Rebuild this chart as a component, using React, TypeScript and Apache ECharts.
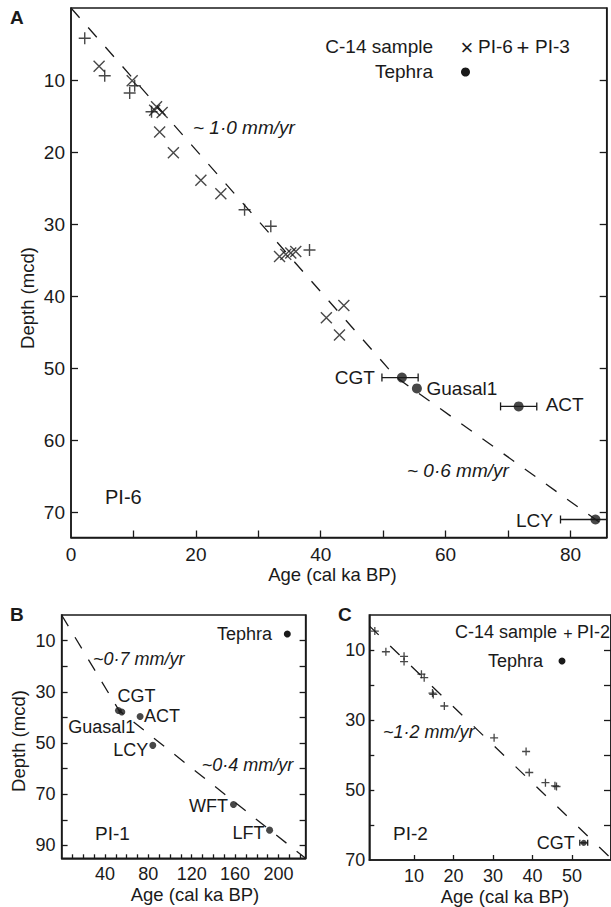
import React, { useEffect, useRef } from "react";
import * as echarts from "echarts";

const FONT = "Liberation Sans";
const INK = "#1a1a1a";

// ---------- Panel A (PI-6 / PI-3) ----------
const A_PI6: [number, number][] = [
  [4.5, 8.1], [9.8, 10.1], [13.7, 13.7], [14.6, 14.5], [13.4, 14.2], [14.2, 17.2],
  [16.4, 20.1], [20.8, 23.9], [24.0, 25.8], [33.4, 34.5], [34.4, 34.2], [35.2, 34.0],
  [36.0, 33.8], [43.7, 41.3], [40.9, 43.0], [43.0, 45.4],
];
const A_PI3: [number, number][] = [
  [2.2, 4.2], [5.4, 9.4], [10.2, 10.8], [9.4, 11.8], [12.9, 14.4], [27.8, 28.0],
  [32.0, 30.3], [38.2, 33.6],
];
const A_TEPHRA_NAMES = ["CGT", "Guasal1", "ACT", "LCY"];
const A_TEPHRA_AGE = [53.0, 55.4, 71.7, 84.0];
const A_TEPHRA_DEPTH = [51.3, 52.8, 55.3, 71.0];
const A_TEPHRA_ERR_LO = [49.8, null, 68.8, 78.4];
const A_TEPHRA_ERR_HI = [55.6, null, 74.6, 89.6];
const A_TREND: [number, number][] = [[0, 0], [52, 51.2], [85.8, 72.1]];
const A_X_LABELS = [0, 20, 40, 60, 80];
const A_X_TICKS = [10, 20, 30, 40, 50, 60, 70, 80];
const A_Y_LABELS = [10, 20, 30, 40, 50, 60, 70];

// ---------- Panel B (PI-1) ----------
const B_TEPHRA_NAMES = ["CGT", "Guasal1", "ACT", "LCY", "WFT", "LFT"];
const B_TEPHRA_AGE = [52.4, 55.5, 72.4, 84.1, 158.5, 191.8];
const B_TEPHRA_DEPTH = [37.3, 37.9, 39.6, 50.9, 74.0, 84.0];
const B_TREND: [number, number][] = [[0, 0], [53, 37.3], [225, 95]];
const B_X_LABELS = [40, 80, 120, 160, 200];
const B_X_TICKS = [10, 20, 30, 40, 50, 60, 70, 80, 90, 100, 110, 120, 130, 140, 150, 160, 170, 180, 190, 200, 210, 220];
const B_Y_LABELS = [10, 30, 50, 70, 90];
const B_Y_TICKS = [10, 20, 30, 40, 50, 60, 70, 80, 90];

// ---------- Panel C (PI-2) ----------
const C_PI2: [number, number][] = [
  [0.1, 4.6], [2.9, 10.5], [7.5, 11.8], [7.5, 13.3], [11.9, 16.9], [12.6, 17.9],
  [14.7, 22.3], [14.9, 22.7], [17.7, 26.0], [30.3, 35.1], [38.4, 39.0], [39.2, 45.0],
  [43.3, 47.9], [45.7, 48.8], [46.1, 49.0],
];
const C_TEPHRA_NAMES = ["CGT"];
const C_TEPHRA_AGE = [53.0];
const C_TEPHRA_DEPTH = [65.1];
const C_TEPHRA_ERR_LO = [52.0];
const C_TEPHRA_ERR_HI = [54.0];
const C_TREND: [number, number][] = [[-1.3, 3.1], [59.4, 69.0]];
const C_X_LABELS = [10, 20, 30, 40, 50];
const C_Y_LABELS = [10, 30, 50, 70];
const C_Y_TICKS = [10, 20, 30, 40, 50, 60];

// label offsets (styling) for tephra names
const A_LABEL_OFFSETS = [[-47, 0], [45, 0], [46, -2], [-61, 1]];
const B_LABEL_OFFSETS = [[18, -15], [-20, 15], [22, 0], [-22, 5], [-25, 1], [-21, 3]];
const C_LABEL_OFFSETS = [[-28, 0]];

const CROSS = "path://M0,0L10,10M10,0L0,10";
const PLUS = "path://M5,0L5,10M0,5L10,5";

function errRender(cap: number) {
  return (params: any, api: any) => {
    const y = api.value(2);
    const p1 = api.coord([api.value(0), y]);
    const p2 = api.coord([api.value(1), y]);
    const style = { stroke: INK, lineWidth: 1.3 };
    return {
      type: "group",
      children: [
        { type: "line", shape: { x1: p1[0], y1: p1[1], x2: p2[0], y2: p2[1] }, style },
        { type: "line", shape: { x1: p1[0], y1: p1[1] - cap, x2: p1[0], y2: p1[1] + cap }, style },
        { type: "line", shape: { x1: p2[0], y1: p2[1] - cap, x2: p2[0], y2: p2[1] + cap }, style },
      ],
    };
  };
}

function tephraData(names: string[], ages: number[], depths: number[], offs: number[][]) {
  return names.map((n, i) => ({
    name: n,
    value: [ages[i], depths[i]],
    label: { offset: offs[i] },
  }));
}

function errData(lo: (number | null)[], hi: (number | null)[], depths: number[]) {
  const out: number[][] = [];
  lo.forEach((l, i) => {
    if (l != null && hi[i] != null) out.push([l as number, hi[i] as number, depths[i]]);
  });
  return out;
}

const axisLine = { show: true, onZero: false, lineStyle: { color: INK, width: 1.5 } };
const labelStyle = (size: number, margin: number, values: number[]) => ({
  customValues: values,
  fontSize: size,
  fontFamily: FONT,
  color: INK,
  margin,
});
const tickStyle = (len: number, values: number[]) => ({
  show: true,
  inside: true,
  length: len,
  customValues: values,
  lineStyle: { color: INK, width: 1.3 },
});

function txt(x: number, y: number, text: string, o: any = {}) {
  return {
    type: "text",
    x,
    y,
    rotation: o.rotation || 0,
    style: {
      text,
      fontSize: o.size || 19,
      fontFamily: FONT,
      fontStyle: o.italic ? "italic" : "normal",
      fontWeight: o.bold ? "bold" : "normal",
      fill: INK,
      align: o.align || "left",
      verticalAlign: "middle",
    },
  };
}

function dot(cx: number, cy: number, r: number) {
  return { type: "circle", shape: { cx, cy, r }, style: { fill: INK } };
}

export default function App() {
  const ref = useRef<HTMLDivElement>(null);
  useEffect(() => {
    if (!ref.current) return;
    const chart = echarts.init(ref.current, null, { renderer: "svg" });
    const tephraLabel = (size: number) => ({
      show: true,
      position: "inside",
      formatter: "{b}",
      color: INK,
      fontSize: size,
      fontFamily: FONT,
      textBorderWidth: 0,
      textBorderColor: "transparent",
      opacity: 1,
    });
    const option: any = {
      animation: false,
      backgroundColor: "#ffffff",
      grid: [
        { left: 71, top: 8, width: 535.7, height: 529.5, show: true, borderColor: INK, borderWidth: 1.5 },
        { left: 61.6, top: 615, width: 244, height: 243.3, show: true, borderColor: INK, borderWidth: 1.5 },
        { left: 369.3, top: 615, width: 244, height: 245, show: true, borderColor: INK, borderWidth: 1.5 },
      ],
      xAxis: [
        {
          gridIndex: 0, type: "value", min: 0, max: 85.8, axisLine,
          axisTick: tickStyle(7, A_X_TICKS), axisLabel: labelStyle(19, 7, A_X_LABELS), splitLine: { show: false },
        },
        {
          gridIndex: 1, type: "value", min: 0, max: 225, axisLine,
          axisTick: tickStyle(4, B_X_TICKS), axisLabel: labelStyle(18, 7, B_X_LABELS), splitLine: { show: false },
        },
        {
          gridIndex: 2, type: "value", min: -1.3, max: 59.9, axisLine,
          axisTick: tickStyle(5, C_X_LABELS), axisLabel: labelStyle(18, 7, C_X_LABELS), splitLine: { show: false },
        },
      ],
      yAxis: [
        {
          gridIndex: 0, type: "value", min: 0, max: 73.5, inverse: true, axisLine,
          axisTick: tickStyle(7, A_Y_LABELS), axisLabel: labelStyle(19, 6, A_Y_LABELS), splitLine: { show: false },
        },
        {
          gridIndex: 0, type: "value", min: 0, max: 73.5, inverse: true, position: "right", axisLine,
          axisTick: tickStyle(7, A_Y_LABELS), axisLabel: { show: false }, splitLine: { show: false },
        },
        {
          gridIndex: 1, type: "value", min: 0, max: 95, inverse: true, axisLine,
          axisTick: tickStyle(6, B_Y_TICKS), axisLabel: labelStyle(18, 6, B_Y_LABELS), splitLine: { show: false },
        },
        {
          gridIndex: 1, type: "value", min: 0, max: 95, inverse: true, position: "right", axisLine,
          axisTick: tickStyle(6, B_Y_TICKS), axisLabel: { show: false }, splitLine: { show: false },
        },
        {
          gridIndex: 2, type: "value", min: 0, max: 70, inverse: true, axisLine,
          axisTick: tickStyle(5, C_Y_TICKS), axisLabel: labelStyle(18, 4, C_Y_LABELS), splitLine: { show: false },
        },
        {
          gridIndex: 2, type: "value", min: 0, max: 70, inverse: true, position: "right", axisLine,
          axisTick: tickStyle(7, C_Y_TICKS), axisLabel: { show: false }, splitLine: { show: false },
        },
      ],
      series: [
        // Panel A
        {
          type: "line", xAxisIndex: 0, yAxisIndex: 0, data: A_TREND, symbol: "none",
          lineStyle: { color: INK, width: 1.3, type: [13, 13] }, silent: true,
        },
        {
          name: "PI-6", type: "scatter", xAxisIndex: 0, yAxisIndex: 0, data: A_PI6,
          symbol: CROSS, symbolSize: 11,
          itemStyle: { color: "transparent", borderColor: INK, borderWidth: 1.4 },
        },
        {
          name: "PI-3", type: "scatter", xAxisIndex: 0, yAxisIndex: 0, data: A_PI3,
          symbol: PLUS, symbolSize: 12,
          itemStyle: { color: "transparent", borderColor: INK, borderWidth: 1.4 },
        },
        {
          type: "custom", xAxisIndex: 0, yAxisIndex: 0, clip: true,
          data: errData(A_TEPHRA_ERR_LO, A_TEPHRA_ERR_HI, A_TEPHRA_DEPTH),
          encode: { x: [0, 1], y: 2 }, renderItem: errRender(4),
        },
        {
          name: "Tephra", type: "scatter", xAxisIndex: 0, yAxisIndex: 0,
          data: tephraData(A_TEPHRA_NAMES, A_TEPHRA_AGE, A_TEPHRA_DEPTH, A_LABEL_OFFSETS),
          symbol: "circle", symbolSize: 10, itemStyle: { color: INK }, label: tephraLabel(19),
        },
        // Panel B
        {
          type: "line", xAxisIndex: 1, yAxisIndex: 2, data: B_TREND, symbol: "none",
          lineStyle: { color: INK, width: 1.3, type: [13, 13] }, silent: true,
        },
        {
          name: "Tephra B", type: "scatter", xAxisIndex: 1, yAxisIndex: 2,
          data: tephraData(B_TEPHRA_NAMES, B_TEPHRA_AGE, B_TEPHRA_DEPTH, B_LABEL_OFFSETS),
          symbol: "circle", symbolSize: 7, itemStyle: { color: INK }, label: tephraLabel(18),
        },
        // Panel C
        {
          type: "line", xAxisIndex: 2, yAxisIndex: 4, data: C_TREND, symbol: "none",
          lineStyle: { color: INK, width: 1.3, type: [13, 16] }, silent: true,
        },
        {
          name: "PI-2", type: "scatter", xAxisIndex: 2, yAxisIndex: 4, data: C_PI2,
          symbol: PLUS, symbolSize: 8,
          itemStyle: { color: "transparent", borderColor: INK, borderWidth: 1.3 },
        },
        {
          type: "custom", xAxisIndex: 2, yAxisIndex: 4, clip: true,
          data: errData(C_TEPHRA_ERR_LO, C_TEPHRA_ERR_HI, C_TEPHRA_DEPTH),
          encode: { x: [0, 1], y: 2 }, renderItem: errRender(3),
        },
        {
          name: "Tephra C", type: "scatter", xAxisIndex: 2, yAxisIndex: 4,
          data: tephraData(C_TEPHRA_NAMES, C_TEPHRA_AGE, C_TEPHRA_DEPTH, C_LABEL_OFFSETS),
          symbol: "circle", symbolSize: 6, itemStyle: { color: INK }, label: tephraLabel(18),
        },
      ],
      graphic: [
        // Panel A
        txt(10, 17, "A", { bold: true, size: 19 }),
        txt(193, 127, "~ 1·0 mm/yr", { italic: true }),
        txt(407, 470, "~ 0·6 mm/yr", { italic: true }),
        txt(105, 497, "PI-6", { size: 20 }),
        txt(433, 46, "C-14 sample", { align: "right" }),
        txt(467, 47, "×", { align: "center", size: 22 }),
        txt(478, 46, "PI-6"),
        txt(523, 47, "+", { align: "center", size: 22 }),
        txt(535, 46, "PI-3"),
        txt(433, 71, "Tephra", { align: "right" }),
        dot(465.5, 72, 4.5),
        txt(27, 298, "Depth (mcd)", { align: "center", rotation: Math.PI / 2, size: 18.5 }),
        txt(332.5, 574, "Age (cal ka BP)", { align: "center", size: 18.5 }),
        // Panel B
        txt(10, 614, "B", { bold: true, size: 19 }),
        txt(93, 659, "~0·7 mm/yr", { italic: true, size: 18 }),
        txt(201.7, 765, "~0·4 mm/yr", { italic: true, size: 18 }),
        txt(95, 833, "PI-1", { size: 19 }),
        txt(272, 634, "Tephra", { align: "right", size: 18 }),
        dot(287.3, 634, 3.5),
        txt(18, 741, "Depth (mcd)", { align: "center", rotation: Math.PI / 2, size: 18.5 }),
        txt(195, 894, "Age (cal ka BP)", { align: "center", size: 18.5 }),
        // Panel C
        txt(338, 614, "C", { bold: true, size: 19 }),
        txt(383, 731.7, "~1·2 mm/yr", { italic: true, size: 18 }),
        txt(393, 833, "PI-2", { size: 19 }),
        txt(557, 632, "C-14 sample", { align: "right", size: 18 }),
        txt(568, 633, "+", { align: "center", size: 16 }),
        txt(577, 632, "PI-2", { size: 18 }),
        txt(543, 661, "Tephra", { align: "right", size: 18 }),
        dot(562, 661, 3.5),
        txt(505, 896, "Age (cal ka BP)", { align: "center", size: 18.5 }),
      ],
    };
    chart.setOption(option);
    return () => chart.dispose();
  }, []);
  return (
    <div
      ref={ref}
      style={{ position: "fixed", left: 0, top: 0, width: 611, height: 907, background: "#fff" }}
    />
  );
}
